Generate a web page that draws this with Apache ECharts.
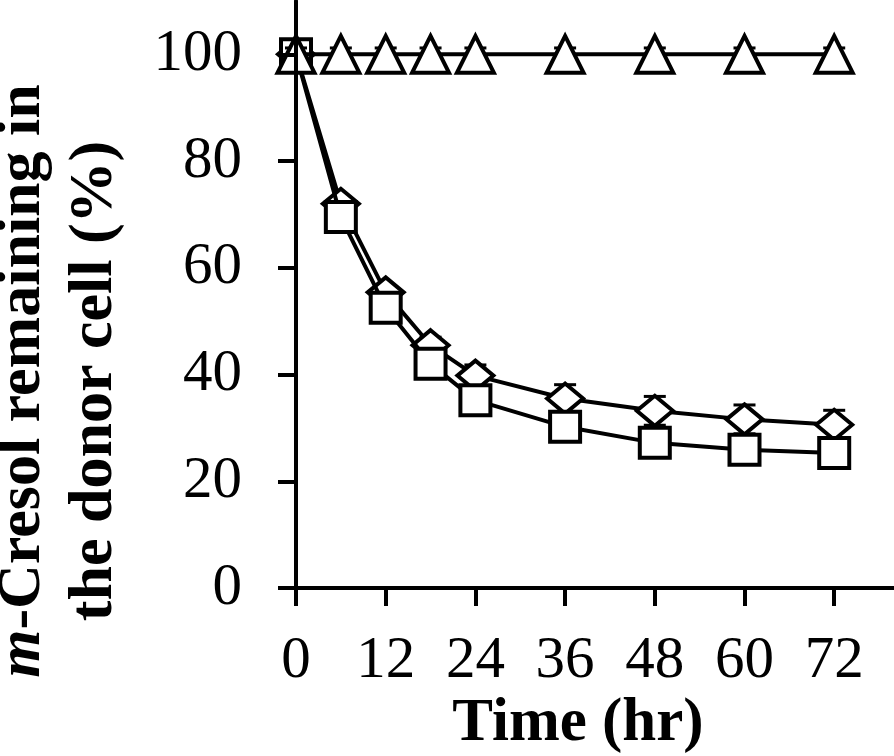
<!DOCTYPE html>
<html>
<head>
<meta charset="utf-8">
<script src="https://cdn.jsdelivr.net/npm/echarts@6/dist/echarts.min.js"></script>
<style>
html,body{margin:0;padding:0;background:#fff;}
#chart{width:894px;height:756px;}
</style>
</head>
<body>
<div id="chart"></div>
<script>
var timeHr = [0, 6, 12, 18, 24, 36, 48, 60, 72];
var diamondVals = [100, 72, 55.4, 45.5, 39.8, 35.5, 33.2, 31.6, 30.6];
var diamondErr = [0.5, 1, 1, 1.5, 2, 2.6, 2.7, 2.7, 2.7];
var squareVals = [100, 69.5, 52.5, 42, 35.2, 30.2, 27.2, 25.9, 25.3];
var squareErr = [0.5, 1, 1, 1, 1, 1, 1, 1, 1];
var triangleVals = [100, 100, 100, 100, 100, 100, 100, 100, 100];
var triangleErr = [1.2, 1.2, 1.2, 1.2, 1.2, 1.2, 1.2, 1.2, 1.2];
var xTicks = [0, 12, 24, 36, 48, 60, 72];
var yTicks = [0, 20, 40, 60, 80, 100];

var FONT = '"Liberation Serif","Times New Roman",serif';

function pairs(vals) {
  return timeHr.map(function (t, i) { return [t, vals[i]]; });
}
function errData(vals, errs) {
  return timeHr.map(function (t, i) { return [t, vals[i] - errs[i], vals[i] + errs[i]]; });
}
function errSeries(vals, errs, z) {
  return {
    type: 'custom',
    z: z,
    silent: true,
    data: errData(vals, errs),
    renderItem: function (params, api) {
      var lo = api.coord([api.value(0), api.value(1)]);
      var hi = api.coord([api.value(0), api.value(2)]);
      var w = 11;
      var st = { stroke: '#000', lineWidth: 3 };
      return {
        type: 'group',
        children: [
          { type: 'line', shape: { x1: lo[0], y1: lo[1], x2: hi[0], y2: hi[1] }, style: st },
          { type: 'line', shape: { x1: hi[0] - w, y1: hi[1], x2: hi[0] + w, y2: hi[1] }, style: st },
          { type: 'line', shape: { x1: lo[0] - w, y1: lo[1], x2: lo[0] + w, y2: lo[1] }, style: st }
        ]
      };
    }
  };
}
function lineSeries(vals, symbol, size, z) {
  return {
    type: 'line',
    z: z,
    data: pairs(vals),
    symbol: symbol,
    symbolSize: size,
    showAllSymbol: true,
    lineStyle: { color: '#000', width: 4 },
    itemStyle: { color: '#fff', borderColor: '#000', borderWidth: 4 },
    emphasis: { disabled: true },
    animation: false
  };
}

var chart = echarts.init(document.getElementById('chart'), null, { renderer: 'canvas' });
chart.setOption({
  animation: false,
  backgroundColor: '#fff',
  grid: { left: 296, right: 0, top: 1, bottom: 168, containLabel: false },
  xAxis: {
    type: 'value', min: 0, max: 80, z: 10,
    splitLine: { show: false },
    axisLine: { show: true, onZero: false, lineStyle: { color: '#000', width: 4 } },
    axisTick: { show: true, length: 18, lineStyle: { color: '#000', width: 4 }, customValues: xTicks },
    axisLabel: { customValues: xTicks, margin: 44, fontFamily: FONT, fontSize: 59, color: '#000' }
  },
  yAxis: {
    type: 'value', min: 0, max: 110, z: 10,
    splitLine: { show: false },
    axisLine: { show: true, onZero: false, lineStyle: { color: '#000', width: 4 } },
    axisTick: { show: true, length: 18, lineStyle: { color: '#000', width: 4 }, customValues: yTicks },
    axisLabel: { customValues: yTicks, margin: 54, fontFamily: FONT, fontSize: 59, color: '#000' }
  },
  graphic: [
    {
      type: 'text', x: 23, y: 381, rotation: Math.PI / 2, z: 100,
      style: {
        text: '{i|m}-Cresol remaining in',
        fontFamily: FONT, fontSize: 62, fontWeight: 'bold', fill: '#000',
        textAlign: 'center', textVerticalAlign: 'middle',
        rich: { i: { fontFamily: FONT, fontSize: 62, fontWeight: 'bold', fontStyle: 'italic', fill: '#000' } }
      }
    },
    {
      type: 'text', x: 95, y: 381, rotation: Math.PI / 2, z: 100,
      style: {
        text: 'the donor cell (%)',
        fontFamily: FONT, fontSize: 62, fontWeight: 'bold', fill: '#000',
        textAlign: 'center', textVerticalAlign: 'middle'
      }
    },
    {
      type: 'text', x: 578, y: 724, z: 100,
      style: {
        text: 'Time (hr)',
        fontFamily: FONT, fontSize: 61, fontWeight: 'bold', fill: '#000',
        textAlign: 'center', textVerticalAlign: 'middle'
      }
    }
  ],
  series: [
    errSeries(diamondVals, diamondErr, 1),
    lineSeries(diamondVals, 'diamond', [36, 30], 2),
    errSeries(squareVals, squareErr, 3),
    lineSeries(squareVals, 'rect', 30, 4),
    errSeries(triangleVals, triangleErr, 5),
    lineSeries(triangleVals, 'triangle', [37, 37], 6)
  ]
});
</script>
</body>
</html>
